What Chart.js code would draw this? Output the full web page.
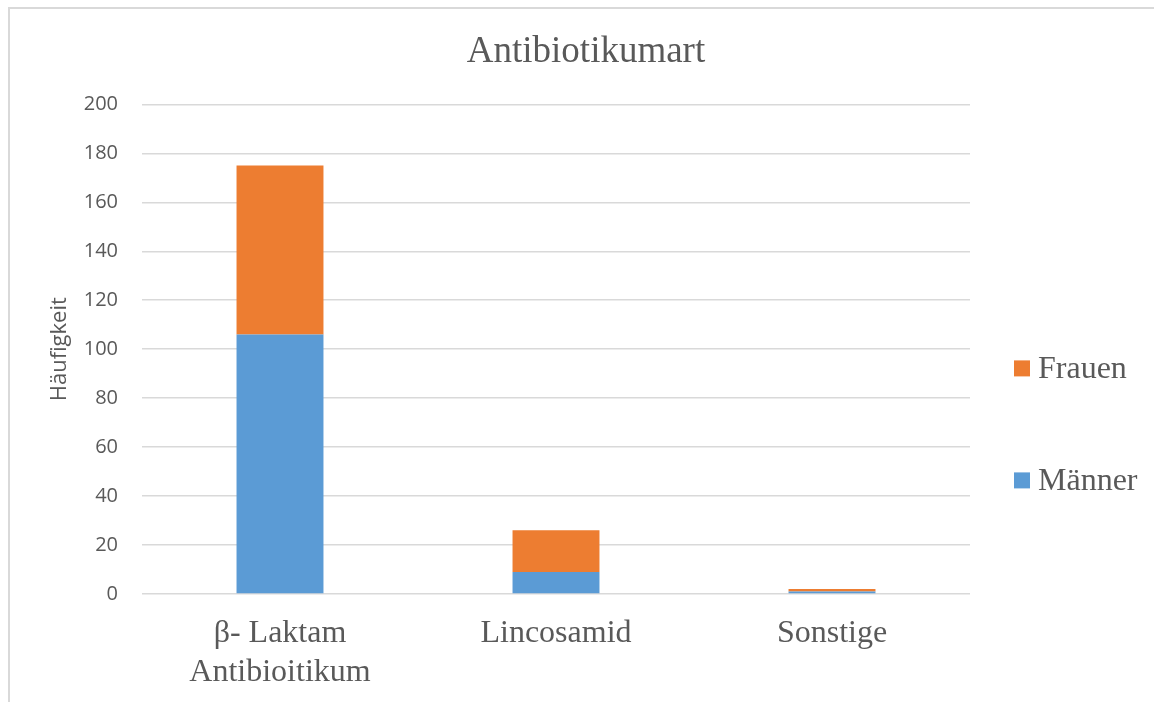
<!DOCTYPE html>
<html>
<head>
<meta charset="utf-8">
<script src="https://cdn.jsdelivr.net/npm/chart.js@4"></script>
<style>
  body { margin: 0; background: #fff; }
  #frame {
    position: absolute; left: 8px; top: 7px; width: 1146px; height: 695px;
    border-top: 2px solid #d9d9d9; border-left: 2px solid #d9d9d9;
  }
  #wrap { position: absolute; left: 0; top: 0; width: 1154px; height: 702px; }
</style>
</head>
<body>
<div id="frame"></div>
<div id="wrap"><canvas id="myChart"></canvas></div>
<script>
const categories = [["β- Laktam", "Antibioitikum"], "Lincosamid", "Sonstige"];
const maenner = [106, 9, 1];
const frauen = [69, 17, 1];
const seriesNames = ["Männer", "Frauen"];
const yTicks = [0, 20, 40, 60, 80, 100, 120, 140, 160, 180, 200];

const textColor = "#595959";
const serif = "'Liberation Serif', 'Times New Roman', serif";
const sans = "'Open Sans', sans-serif";

// legend drawn by hand to the right of the plot, Frauen on top
const sideLegend = {
  id: "sideLegend",
  afterDraw(chart) {
    const ctx = chart.ctx;
    const area = chart.chartArea;
    const items = chart.data.datasets.slice().reverse();
    ctx.save();
    ctx.font = "32px " + serif;
    ctx.textBaseline = "middle";
    ctx.textAlign = "left";
    items.forEach((ds, i) => {
      const y = area.top + 264 + i * 112;
      const x = area.right + 44;
      ctx.fillStyle = ds.backgroundColor;
      ctx.fillRect(x, y - 8, 16, 16);
      ctx.fillStyle = textColor;
      ctx.fillText(ds.label, x + 24, y + 1);
    });
    ctx.restore();
  },
};

const chart = new Chart(document.getElementById("myChart"), {
  type: "bar",
  data: {
    labels: categories,
    datasets: [
      {
        label: seriesNames[0],
        data: maenner,
        backgroundColor: "#5b9bd5",
      },
      {
        label: seriesNames[1],
        data: frauen,
        backgroundColor: "#ed7d31",
      },
    ],
  },
  options: {
    responsive: true,
    maintainAspectRatio: false,
    animation: false,
    categoryPercentage: 1,
    barPercentage: 0.315,
    layout: { padding: { left: 18, right: 0, top: 0, bottom: 0 } },
    scales: {
      x: {
        stacked: true,
        grid: { display: false, drawTicks: false },
        border: { display: false },
        ticks: {
          color: textColor,
          padding: 21,
          font: { family: serif, size: 32, lineHeight: 1.19 },
        },
        afterFit: (scale) => { scale.height = 108; },
      },
      y: {
        stacked: true,
        min: 0,
        max: 200,
        afterBuildTicks: (scale) => { scale.ticks = yTicks.map((v) => ({ value: v })); },
        grid: { color: "#d9d9d9", lineWidth: 1.5, drawTicks: false },
        border: { display: false },
        ticks: {
          color: textColor,
          padding: 24,
          font: { family: sans, size: 20 },
        },
        title: {
          display: true,
          text: "Häufigkeit",
          color: textColor,
          font: { family: sans, size: 22 },
          padding: { top: 29, bottom: 0 },
        },
        afterFit: (scale) => { scale.width = 124; },
      },
      // empty axis that keeps room for the legend on the right
      side: {
        type: "linear",
        position: "right",
        grid: { display: false, drawTicks: false },
        border: { display: false },
        ticks: { display: false },
        afterFit: (scale) => { scale.width = 184; },
      },
    },
    plugins: {
      legend: { display: false },
      tooltip: { enabled: false },
      title: {
        display: true,
        text: "Antibiotikumart",
        color: textColor,
        font: { family: serif, size: 37, weight: "normal", lineHeight: 1.2 },
        padding: { top: 30, bottom: 30 },
      },
    },
  },
  plugins: [sideLegend],
});
</script>
</body>
</html>
